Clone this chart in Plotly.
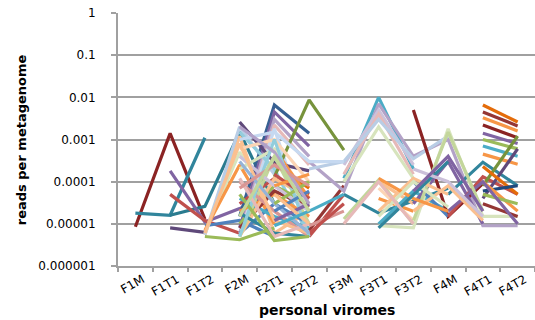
import plotly.graph_objects as go

N = None
categories = ["F1M", "F1T1", "F1T2", "F2M", "F2T1", "F2T2",
              "F3M", "F3T1", "F3T2", "F4M", "F4T1", "F4T2"]

tick_vals = [1, 0.1, 0.01, 0.001, 0.0001, 0.00001, 0.000001]
tick_text = ["1", "0.1", "0.01", "0.001", "0.0001", "0.00001", "0.000001"]

# each series: (index of first category, consecutive values)
s01 = (0, [8.5e-6, 1.4e-3, 1.3e-5])
s02 = (0, [1.8e-5, 1.6e-5, 1.1e-3])
s03 = (1, [1.6e-5, 2.6e-5, 1.5e-3, 3e-5])
s04 = (1, [1.8e-4, 1.1e-5, 2.3e-5, 6e-5])
s05 = (1, [5e-5, 1.2e-5, 6e-6])
s06 = (1, [8e-6, 6.3e-6])
s07 = (2, [9e-6, 1.2e-5, 5e-6])
s08 = (2, [5.5e-6, 1.2e-3, 6e-6, 2e-5])
s09 = (2, [5.5e-6, 2e-3, 1.5e-4])
s10 = (2, [6e-6, 5e-4, 3e-5])
s11 = (2, [5e-6, 4.2e-6, 8e-6])
s12 = (2, [7e-6, 2.5e-4, 1e-5])
s13 = (3, [1.5e-5, 6.6e-3, 1.4e-3])
s14 = (3, [8e-6, 4.5e-3, 7e-4])
s15 = (3, [6e-6, 3e-3, 4e-4])
s16 = (3, [5e-6, 2.2e-3, 2.5e-4])
s17 = (3, [5e-6, 1.8e-3, 6e-6])
s18 = (3, [2.6e-3, 2.8e-4, 1.8e-4])
s19 = (3, [1.5e-3, 2e-4, 5e-6])
s20 = (4, [1.3e-4, 8.7e-3, 5.6e-4])
s21 = (4, [2.5e-4, 7e-5])
s22 = (3, [3e-5, 1.2e-4, 5e-5])
s23 = (3, [1e-5, 8e-5, 3e-5])
s24 = (3, [2e-5, 5e-5, 1.5e-5])
s25 = (3, [6e-6, 3e-5, 1e-5])
s26 = (3, [4e-5, 1.5e-5, 8e-6])
s27 = (3, [8e-6, 6e-5, 2.5e-5])
s28 = (3, [5e-6, 1.2e-4, 4e-5])
s29 = (3, [5e-6, 4e-4, 1e-5])
s30 = (3, [1.8e-5, 6e-6, 5e-6])
s31 = (3, [1e-4, 2e-5, 5e-6])
s32 = (3, [4e-4, 8e-5, 2e-5])
s33 = (4, [6e-4, 4e-5])
s34 = (5, [5e-6, 5e-5])
s35 = (5, [7e-6, 8e-5])
s36 = (5, [9e-6, 2e-5])
s37 = (5, [6e-6, 3e-5])
s38 = (6, [1.2e-4, 1e-2, 2e-4])
s39 = (5, [3e-4, 6e-5, 7e-3, 4e-4, 1e-3, 9e-6, 9e-6])
s40 = (6, [2.5e-4, 5e-3, 2.5e-4])
s41 = (6, [1.5e-4, 4e-3, 1.5e-4])
s42 = (6, [1e-4, 2e-3, 1.2e-4])
s43 = (5, [2e-4, 3e-4, 3e-3, 3.5e-4, 1.2e-3])
s44 = (6, [5e-5, 1.8e-5, 3.5e-5, 7e-5])
s45 = (6, [1.3e-5, 1.1e-4, 1e-5])
s46 = (7, [1e-4, 3e-5])
s47 = (7, [4e-5, 2e-5])
s48 = (7, [7e-5, 1.2e-5])
s49 = (7, [1e-5, 6e-5, 2e-5])
s50 = (7, [9e-6, 8e-6, 1.8e-3, 1.5e-5, 1.5e-5])
s51 = (8, [5e-3, 1.5e-5, 9e-5])
s52 = (8, [1e-4, 1.5e-5])
s53 = (8, [3e-5, 3e-4, 1e-5])
s54 = (9, [1.5e-5, 1.3e-4, 5e-5])
s55 = (9, [5e-5, 2.9e-4, 8e-5])
s56 = (10, [6.6e-3, 2.6e-3])
s57 = (10, [4.5e-3, 2.1e-3])
s58 = (10, [3.3e-3, 1.6e-3])
s59 = (10, [2.2e-3, 1.1e-3])
s60 = (10, [1.4e-3, 8e-4])
s61 = (10, [1e-3, 6e-4])
s62 = (10, [7e-4, 4e-4])
s63 = (10, [4.5e-4, 2.6e-4])
s64 = (10, [8e-5, 1.2e-3])
s65 = (10, [4e-5, 6e-4])
s66 = (10, [2.3e-4, 5e-5])
s67 = (10, [6e-5, 8e-5])
s68 = (10, [1e-4, 2e-5])
s69 = (10, [3e-5, 1.5e-5])
s70 = (10, [5e-5, 3e-5])
s71 = (9, [2e-5, 1e-4, 1e-5])
s72 = (8, [1.2e-5, 1.5e-3, 2e-5])
s73 = (8, [2e-5, 8e-5, 1.2e-5])
s74 = (3, [1e-3, 1.5e-3, 3e-4, 3e-4])
s75 = (3, [6e-4, 1e-3, 1e-4])
s76 = (3, [2e-4, 6e-4, 2e-5])
s77 = (2, [6e-6, 8e-4, 1.2e-5, 6e-6])
s78 = (3, [5e-6, 1e-3, 5e-6])
s79 = (3, [1.2e-4, 5e-6, 1e-5])
s80 = (3, [5e-5, 4e-6, 5e-6])
s81 = (3, [3e-4, 3e-5, 6e-6])
s82 = (4, [1.5e-4, 4e-5])
s83 = (4, [8e-5, 1.5e-4])
s84 = (4, [3e-5, 1e-4])
s85 = (4, [2e-5, 6e-5])
s86 = (4, [1.2e-5, 3e-5])
s87 = (4, [5e-5, 1e-5])
s88 = (4, [9e-6, 2e-5, 5e-5])
s89 = (3, [2e-3, 5e-4, 3e-5])
s90 = (3, [7e-5, 2.5e-4, 8e-5])
s91 = (3, [1.5e-5, 4e-4, 2e-5])
s92 = (7, [2e-5, 1.2e-4, 5e-5])
s93 = (7, [1.2e-4, 4e-5, 2e-5])
s94 = (7, [1.5e-5, 1e-4, 2.5e-5])
s95 = (7, [8e-6, 5e-5, 3e-4])
s96 = (8, [2e-4, 1e-4, 1.5e-5])
s97 = (8, [6e-5, 4e-4, 2e-5])
s98 = (6, [1e-5, 1e-4, 1e-5])

series = [s01, s02, s03, s04, s05, s06, s07, s08, s09, s10, s11, s12,
          s13, s14, s15, s16, s17, s18, s19, s20, s21, s22, s23, s24,
          s25, s26, s27, s28, s29, s30, s31, s32, s33, s34, s35, s36,
          s37, s38, s39, s40, s41, s42, s43, s44, s45, s46, s47, s48,
          s49, s50, s51, s52, s53, s54, s55, s56, s57, s58, s59, s60,
          s61, s62, s63, s64, s65, s66, s67, s68, s69, s70, s71, s72, s73,
          s74, s75, s76, s77, s78, s79, s80, s81, s82, s83, s84, s85, s86,
          s87, s88, s89, s90, s91, s92, s93, s94, s95, s96, s97, s98]

line_colors = [
    "#8B2323", "#31859C", "#2A7B8F", "#8064A2", "#C0504D", "#5F497A",
    "#4F81BD", "#FAC090", "#B9CDE5", "#D7E4BD", "#9BBB59", "#F79646",
    "#376092", "#8064A2", "#B3A2C7", "#E6B9B8", "#C6D9F1", "#5F497A",
    "#93CDDD", "#77933C", "#E46C0A", "#C0504D", "#9BBB59", "#F79646",
    "#4F81BD", "#4BACC6", "#943634", "#FAC090", "#C3D69B", "#31859C",
    "#D99694", "#CCC1DA", "#F79646", "#C0504D", "#943634", "#D99694",
    "#C0504D", "#4BACC6", "#B3A2C7", "#CCC1DA", "#E6B9B8", "#D7E4BD",
    "#B9CDE5", "#31859C", "#C3D69B", "#FAC090", "#F79646", "#FCD5B5",
    "#4BACC6", "#D7E4BD", "#8B2323", "#4F81BD", "#8064A2", "#C0504D",
    "#31859C", "#E46C0A", "#943634", "#F79646", "#8B2323", "#8064A2",
    "#9BBB59", "#4BACC6", "#F79646", "#77933C", "#5F497A", "#E46C0A",
    "#1F497D", "#F79646", "#943634", "#9BBB59", "#8064A2", "#C3D69B",
    "#FAC090",
    "#C6D9F1", "#FCD5B5", "#D7E4BD", "#FAC090", "#92CDDC", "#E6B9B8",
    "#9BBB59", "#95B3D7", "#C0504D", "#F79646", "#9BBB59", "#4F81BD",
    "#8064A2", "#FAC090", "#4BACC6", "#B2A1C7", "#D99694", "#C3D69B",
    "#FAC090", "#F79646", "#D7E4BD", "#31859C", "#CCC1DA", "#8064A2",
    "#E6B9B8",
]

fig = go.Figure()
for i, (start, vals) in enumerate(series):
    y = [N] * len(categories)
    for k, v in enumerate(vals):
        y[start + k] = v
    fig.add_trace(go.Scatter(
        x=categories, y=y, mode="lines",
        line=dict(color=line_colors[i % len(line_colors)], width=3.2),
        connectgaps=False, showlegend=False, hoverinfo="skip"))

grid = "#A0A0A0"
fig.update_layout(
    width=535, height=320,
    margin=dict(l=118, r=0, t=13, b=54),
    paper_bgcolor="white", plot_bgcolor="white",
    font=dict(family="DejaVu Sans", size=12, color="#000000"),
    xaxis=dict(type="category", categoryorder="array", categoryarray=categories,
               range=[-0.5, 11.5], showgrid=False,
               showline=True, linecolor=grid, linewidth=2,
               ticks="outside", tickson="boundaries", ticklen=4, tickcolor=grid,
               tickwidth=2, tickangle=-30, ticklabelshift=7,
               tickfont=dict(family="DejaVu Sans", size=12)),
    yaxis=dict(type="log", range=[-6, 0], tickvals=tick_vals, ticktext=tick_text,
               showgrid=True, gridcolor=grid, gridwidth=2,
               showline=True, linecolor=grid, linewidth=2,
               ticks="outside", ticklen=5, tickcolor=grid, tickwidth=2,
               ticklabelstandoff=13,
               tickfont=dict(family="DejaVu Sans", size=12), zeroline=False),
    annotations=[
        dict(text="<b>personal viromes</b>", xref="paper", yref="paper",
             x=0.501, y=-0.174, xanchor="center", yanchor="middle",
             showarrow=False, font=dict(family="DejaVu Sans", size=14)),
        dict(text="<b>reads per metagenome</b>", xref="paper", yref="paper",
             x=-0.232, y=0.498, xanchor="center", yanchor="middle", textangle=-90,
             showarrow=False, font=dict(family="DejaVu Sans", size=13)),
    ],
)

fig.write_html("out.html")
